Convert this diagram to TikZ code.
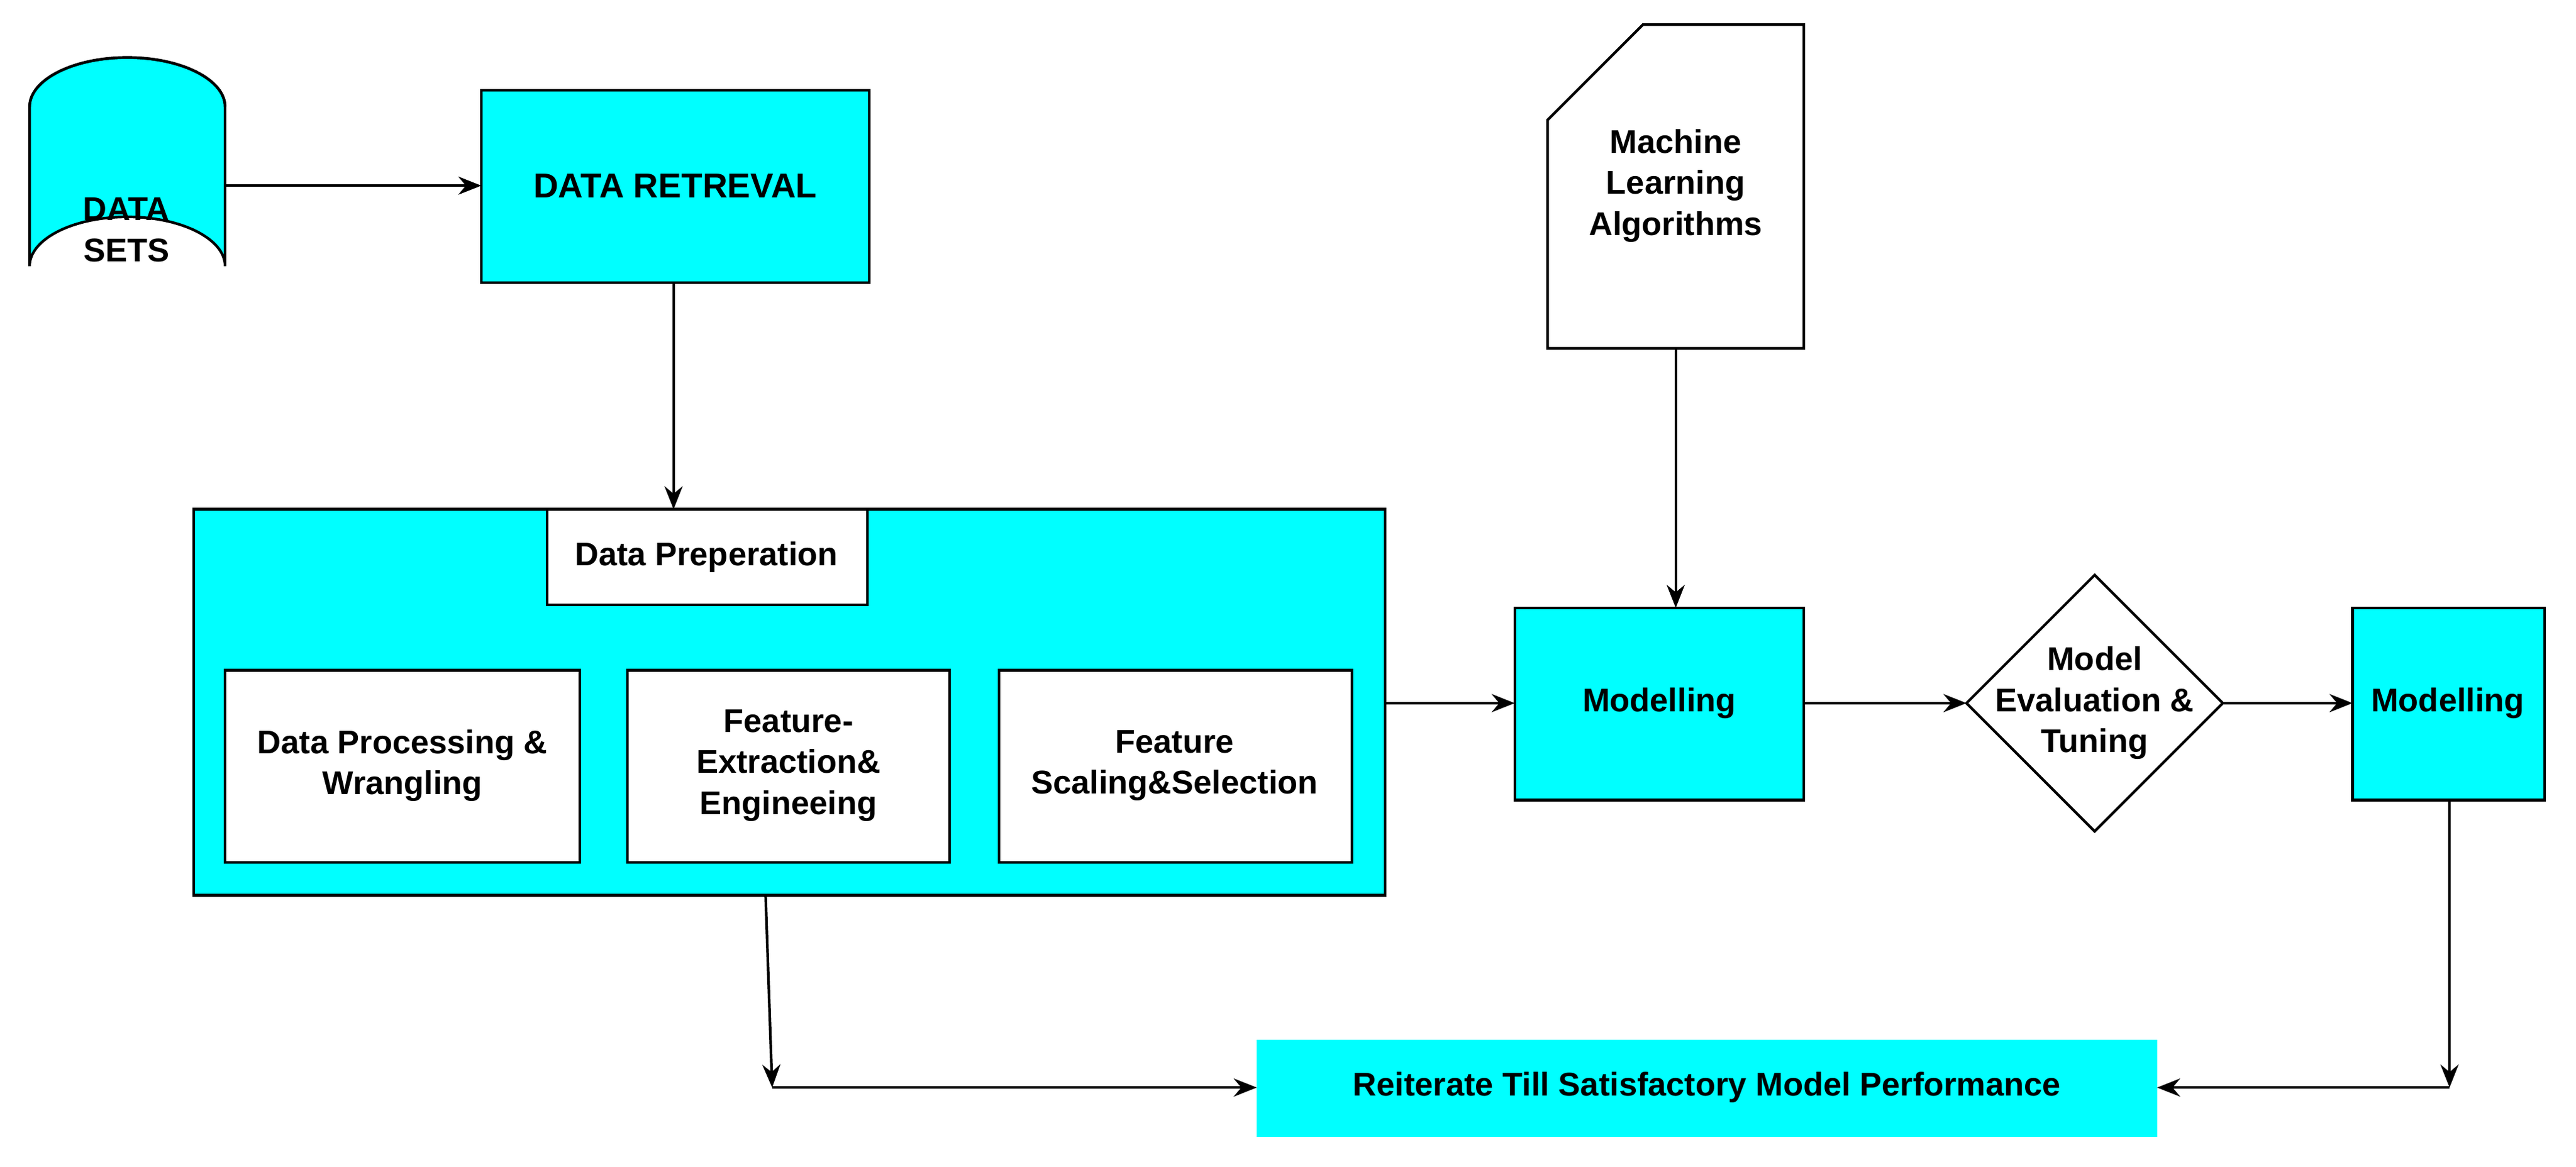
\documentclass[tikz,border=0pt]{standalone}
\usepackage{fontspec}
\setmainfont{Liberation Sans}
\usetikzlibrary{shapes.geometric,arrows.meta}
\definecolor{cy}{HTML}{00FFFF}
\begin{document}
\begin{tikzpicture}[x=1pt,y=-1pt,
  box/.style={draw=black,line width=1.6pt,fill=#1},
  lbl/.style={font=\bfseries\fontsize{20}{25}\selectfont,align=center},
  arr/.style={line width=1.6pt,-{Stealth[length=14pt,width=11pt]}},
  ln/.style={line width=1.6pt}]
\useasboundingbox (0,0) rectangle (1568,710);
% cylinder
\draw[box=cy] (18,65) -- (18,162) arc[start angle=180,end angle=360,x radius=59.5,y radius=30] -- (137,65) arc[start angle=0,end angle=-180,x radius=59.5,y radius=30] -- cycle;
\draw[ln] (18,65) arc[start angle=180,end angle=360,x radius=59.5,y radius=30];
\node[lbl] (ds) at (77,140) {DATA\\SETS};
\coordinate (dsR) at (137,113);
% data retrieval
\draw[box=cy] (293,55) rectangle (529,172);
\node[lbl,font=\bfseries\fontsize{21}{25}\selectfont] (dr) at (411,113) {DATA RETREVAL};
\coordinate (drL) at (293,113);
\coordinate (drB) at (410,172);
\draw[arr] (dsR) -- (drL);
% big rect
\draw[box=cy] (118,310) rectangle (843,545);
\coordinate (bigT) at (410,310);
\coordinate (bigR) at (843,428);
\coordinate (bigB) at (466,545);
\draw[arr] (drB) -- (bigT);
\draw[box=white] (333,310) rectangle (528,368);
\node[lbl] (dp) at (430,339) {Data Preperation};
\draw[box=white] (137,408) rectangle (353,525);
\node[lbl] (b1) at (245,466) {Data Processing \&\\Wrangling};
\draw[box=white] (382,408) rectangle (578,525);
\node[lbl] (b2) at (480,466) {Feature-\\Extraction\&\\Engineeing};
\draw[box=white] (608,408) rectangle (823,525);
\node[lbl] (b3) at (715,466) {Feature\\Scaling\&Selection};
% ML doc
\draw[box=white] (942,73) -- (1000,15) -- (1098,15) -- (1098,212) -- (942,212) -- cycle;
\node[lbl] (ml) at (1020,113) {Machine\\Learning\\Algorithms};
\coordinate (mlB) at (1020,212);
% modelling 1
\draw[box=cy] (922,370) rectangle (1098,487);
\node[lbl] (m1) at (1010,428) {Modelling};
\draw[arr] (mlB) -- (1020,370);
\draw[arr] (bigR) -- (922,428);
% diamond
\draw[box=white] (1197,428) -- (1275,350) -- (1353,428) -- (1275,506) -- cycle;
\node[lbl] (ev) at (1275,428) {Model\\Evaluation \&\\Tuning};
\draw[arr] (1098,428) -- (1197,428);
% modelling 2
\draw[box=cy] (1432,370) rectangle (1549,487);
\node[lbl] (m2) at (1490,428) {Modelling};
\draw[arr] (1353,428) -- (1432,428);
% reiterate
\fill[cy] (765,633) rectangle (1313,692);
\node[lbl] (re) at (1039,662) {Reiterate Till Satisfactory Model Performance};
\coordinate (c1) at (470,662);
\coordinate (c2) at (1491,662);
\draw[arr] (bigB) -- (c1);
\draw[arr] (c1) -- (765,662);
\draw[arr] (1491,487) -- (c2);
\draw[arr] (c2) -- (1313,662);
\end{tikzpicture}
\end{document}
